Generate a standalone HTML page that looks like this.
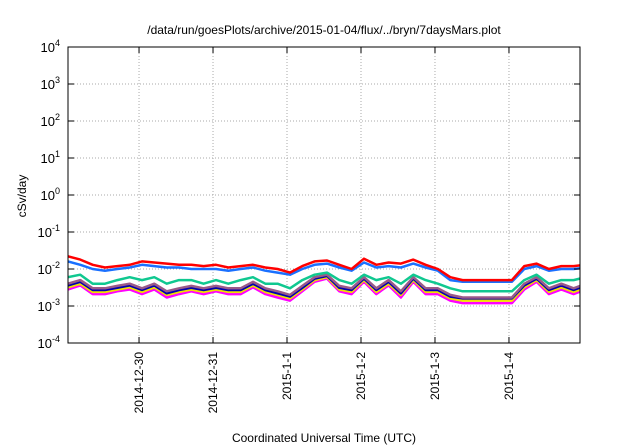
<!DOCTYPE html>
<html><head><meta charset="utf-8"><style>
body{margin:0;background:#fff;}
svg{display:block;font-family:"Liberation Sans",sans-serif;}
</style></head><body>
<svg id="chart" width="640" height="448" viewBox="0 0 640 448" xmlns="http://www.w3.org/2000/svg">
<text x="324" y="34" font-size="12" text-anchor="middle">/data/run/goesPlots/archive/2015-01-04/flux/../bryn/7daysMars.plot</text>
<text transform="translate(26,196) rotate(-90)" font-size="12" text-anchor="middle">cSv/day</text>
<text x="324" y="442" font-size="12" text-anchor="middle">Coordinated Universal Time (UTC)</text>
<defs><clipPath id="clip"><rect x="68" y="47" width="512" height="296"/></clipPath></defs>
<g id="grid"></g>
<g id="series" clip-path="url(#clip)"></g>
<rect x="68" y="47" width="512" height="296" fill="none" stroke="#000" stroke-width="1"/>
<g id="axes"></g>
</svg>
<script>
const dayLabels=["2014-12-30","2014-12-31","2015-1-1","2015-1-2","2015-1-3","2015-1-4"];
const dayPositions=[1,2,3,4,5,6];
const yExps=[-4,-3,-2,-1,0,1,2,3,4];
const red=[0.022,0.018,0.013,0.011,0.012,0.013, 0.016,0.015,0.014,0.013,0.013,0.012, 0.013,0.011,0.012,0.013,0.011,0.010, 0.008,0.012,0.016,0.017,0.013,0.010, 0.019,0.013,0.015,0.014,0.018,0.013, 0.010,0.006,0.005,0.005,0.005,0.005, 0.005,0.012,0.014,0.010,0.012,0.012,0.013];
const blue=[0.016,0.013,0.010,0.009,0.010,0.011, 0.013,0.012,0.011,0.011,0.010,0.010, 0.010,0.009,0.010,0.011,0.009,0.008, 0.007,0.010,0.013,0.014,0.011,0.009, 0.015,0.011,0.012,0.011,0.014,0.011, 0.009,0.005,0.0045,0.0045,0.0045,0.0045, 0.0045,0.010,0.012,0.009,0.010,0.010,0.011];
const green=[0.006,0.007,0.004,0.004,0.005,0.006, 0.005,0.006,0.004,0.005,0.005,0.004, 0.005,0.004,0.005,0.006,0.004,0.004, 0.003,0.005,0.007,0.008,0.005,0.004, 0.007,0.005,0.006,0.004,0.007,0.005, 0.004,0.003,0.0025,0.0025,0.0025,0.0025, 0.0025,0.005,0.007,0.004,0.005,0.005,0.006];
const purple=[0.004,0.005,0.003,0.003,0.0035,0.004, 0.003,0.004,0.0025,0.003,0.0035,0.003, 0.0035,0.003,0.003,0.0045,0.003,0.0025, 0.002,0.0035,0.006,0.007,0.0035,0.003, 0.006,0.003,0.005,0.0025,0.006,0.003, 0.003,0.002,0.0017,0.0017,0.0017,0.0017, 0.0017,0.004,0.006,0.003,0.004,0.003,0.004];
const navy=[0.0036,0.0045,0.0027,0.0027,0.0031,0.0036, 0.0027,0.0036,0.0022,0.0027,0.0031,0.0027, 0.0031,0.0027,0.0027,0.004,0.0027,0.0022, 0.0018,0.0031,0.0055,0.0065,0.0031,0.0027, 0.0055,0.0027,0.0045,0.0022,0.0055,0.0027, 0.0027,0.0018,0.0016,0.0016,0.0016,0.0016, 0.0016,0.0036,0.0055,0.0027,0.0036,0.0027,0.0036];
const yellow=[0.0032,0.004,0.0024,0.0024,0.0028,0.0032, 0.0024,0.0032,0.002,0.0024,0.0028,0.0024, 0.0028,0.0024,0.0024,0.0036,0.0024,0.002, 0.0016,0.0028,0.005,0.006,0.0028,0.0024, 0.005,0.0024,0.004,0.002,0.005,0.0024, 0.0024,0.0016,0.0014,0.0014,0.0014,0.0014, 0.0014,0.0032,0.005,0.0024,0.0032,0.0024,0.0032];
const magenta=[0.0028,0.0036,0.0021,0.0021,0.0025,0.0028, 0.0021,0.0028,0.0017,0.0021,0.0025,0.0021, 0.0025,0.0021,0.0021,0.0032,0.0021,0.0017, 0.0014,0.0025,0.0045,0.0055,0.0025,0.0021, 0.0045,0.0021,0.0036,0.0017,0.0045,0.0021, 0.0021,0.0014,0.0012,0.0012,0.0012,0.0012, 0.0012,0.0028,0.0045,0.0021,0.0028,0.0021,0.0028];
const seriesNames=["magenta","yellow","navy","purple","green","blue","red"];
const seriesColors=["#ff00ff","#f0e000","#0000b0","#9a5a88","#10c890","#1a70ff","#ff0000"];
const seriesData=[magenta,yellow,navy,purple,green,blue,red];
const t0=0.04, step=1/6;

const L=68,R=580,T=47,B=343,D0=0.04,D1=6.96;
const xS=d=>L+(d-D0)/(D1-D0)*(R-L);
const yS=v=>B-(Math.log10(v)+4)/8*(B-T);
const NS="http://www.w3.org/2000/svg";
function mk(tag,attrs,parent){const e=document.createElementNS(NS,tag);for(const k in attrs)e.setAttribute(k,attrs[k]);parent.appendChild(e);return e;}
const grid=document.getElementById('grid'),axes=document.getElementById('axes'),ser=document.getElementById('series');
yExps.forEach(p=>{
  const y=yS(Math.pow(10,p));
  if(p>-4&&p<4){const g=mk('line',{x1:L,x2:R,y1:y,y2:y,stroke:'#aaa','stroke-dasharray':'1,2','stroke-width':1},grid);
  
  }
  mk('line',{x1:L,x2:L+6,y1:y,y2:y,stroke:'#000'},axes);
  mk('line',{x1:R,x2:R-6,y1:y,y2:y,stroke:'#000'},axes);
  const t=mk('text',{x:L-8,y:y+5,'font-size':13,'text-anchor':'end'},axes);
  
  
  t.innerHTML='10<tspan dy="-6" font-size="9">'+p+'</tspan>';
});
dayPositions.forEach((d,i)=>{
  const x=xS(d);
  const g=mk('line',{x1:x,x2:x,y1:T,y2:B,stroke:'#aaa','stroke-dasharray':'1,2','stroke-width':1},grid);
  
  
  mk('line',{x1:x,x2:x,y1:B,y2:B-6,stroke:'#000'},axes);
  mk('line',{x1:x,x2:x,y1:T,y2:T+6,stroke:'#000'},axes);
  const t=mk('text',{transform:`translate(${x+4},352) rotate(-90)`,'font-size':12,'text-anchor':'end'},axes);
  
  
  t.textContent=dayLabels[i];
});
seriesData.forEach((arr,si)=>{
  const pts=arr.map((v,i)=>xS(t0+i*step).toFixed(1)+','+yS(v).toFixed(1)).join(' ');
  const p=mk('polyline',{points:pts,fill:'none',stroke:seriesColors[si],'stroke-width':2.5,'stroke-linejoin':'round'},ser);
  
  
});
</script>
</body></html>
